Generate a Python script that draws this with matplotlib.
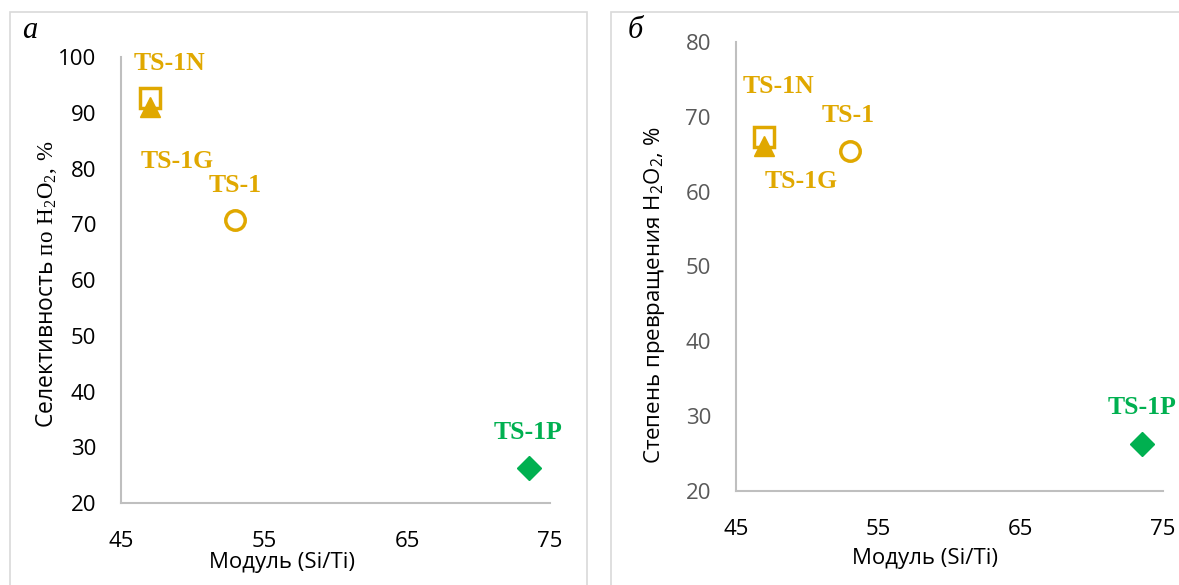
import matplotlib
matplotlib.use("Agg")
import matplotlib.pyplot as plt
from matplotlib.patches import Rectangle

plt.rcParams['font.family'] = ['Open Sans', 'DejaVu Sans']
plt.rcParams['mathtext.fontset'] = 'custom'
plt.rcParams['mathtext.rm'] = 'Liberation Serif'
plt.rcParams['mathtext.sf'] = 'Open Sans'

# samples
samples = ["TS-1", "TS-1N", "TS-1G", "TS-1P"]
si_ti = [53.0, 47.0, 47.0, 73.5]
selectivity = [70.8, 92.6, 91.0, 26.2]
conversion = [65.5, 67.3, 66.1, 26.3]

# label anchor positions (data coords) for each panel
lab_a_x = [53.0, 48.4, 48.9, 73.5]
lab_a_y = [77.0, 98.9, 81.2, 32.7]
lab_b_x = [52.9, 48.0, 49.6, 73.5]
lab_b_y = [70.2, 74.0, 61.3, 31.1]

gold = "#E0A800"
green = "#00B050"
styles = {
    "TS-1": dict(marker="o", mfc="none", mec=gold, ms=14, mew=2.5, color=gold),
    "TS-1N": dict(marker="s", mfc="none", mec=gold, ms=14, mew=2.5, color=gold),
    "TS-1G": dict(marker="^", mfc=gold, mec=gold, ms=14, mew=1, color=gold),
    "TS-1P": dict(marker="D", mfc=green, mec=green, ms=12, mew=1, color=green),
}

W, H = 1179, 585
fig = plt.figure(figsize=(W / 100, H / 100), dpi=100)

# panel frames
fig.patches.append(Rectangle((10 / W, -0.05), 577 / W, 1 - 12 / H + 0.05,
                             transform=fig.transFigure, fill=False,
                             ec="#D9D9D9", lw=1.2))
fig.patches.append(Rectangle((611 / W, -0.05), 0.6, 1 - 12 / H + 0.05,
                             transform=fig.transFigure, fill=False,
                             ec="#D9D9D9", lw=1.2))

ax1 = fig.add_axes([121 / W, 1 - 503 / H, 429 / W, 446 / H])
ax2 = fig.add_axes([736 / W, 1 - 491 / H, 427 / W, 449 / H])


def draw_panel(ax, yvals, lx, ly, ylim, yticks, ycolor):
    order = ["TS-1", "TS-1N", "TS-1G", "TS-1P"]
    for name in order:
        i = samples.index(name)
        st = styles[name]
        ax.plot(si_ti[i], yvals[i], linestyle="none", marker=st["marker"],
                mfc=st["mfc"], mec=st["mec"], ms=st["ms"], mew=st["mew"],
                zorder=3 + order.index(name), clip_on=False)
        ax.text(lx[i], ly[i], name, color=st["color"], ha="center", va="center",
                fontsize=18.5, fontweight="bold", family="Liberation Serif")
    ax.set_xlim(45, 75)
    ax.set_ylim(*ylim)
    ax.set_xticks([45, 55, 65, 75])
    ax.set_yticks(yticks)
    for s in ["top", "right"]:
        ax.spines[s].set_visible(False)
    for s in ["left", "bottom"]:
        ax.spines[s].set_color("#BFBFBF")
        ax.spines[s].set_linewidth(1.5)
    ax.tick_params(length=0, labelsize=16)
    ax.tick_params(axis="x", pad=20, colors="black")
    ax.tick_params(axis="y", pad=18, labelcolor=ycolor)
    ax.set_facecolor("none")


draw_panel(ax1, selectivity, lab_a_x, lab_a_y, (20, 100),
           range(20, 101, 10), "black")
draw_panel(ax2, conversion, lab_b_x, lab_b_y, (20, 80),
           range(20, 81, 10), "#595959")

ax1.set_xlabel("Модуль (Si/Ti)", fontsize=16)
ax1.xaxis.set_label_coords(0.376, -0.11)
ax1.set_ylabel(r"Селективность $\mathrm{по\ H_2O_2{,}\ \%}$", fontsize=16.5)
ax1.yaxis.set_label_coords(-0.145, 0.49)

ax2.set_xlabel("Модуль (Si/Ti)", fontsize=16)
ax2.xaxis.set_label_coords(0.443, -0.127)
ax2.set_ylabel(r"Степень превращения $\mathsf{H_2O_2}$, %", fontsize=16)
ax2.yaxis.set_label_coords(-0.162, 0.437)

fig.text(22 / W, 1 - 31 / H, "а", fontsize=22, style="italic",
         family="Liberation Serif", va="center")
fig.text(628 / W, 1 - 31 / H, "б", fontsize=22, style="italic",
         family="Liberation Serif", va="center")

fig.savefig("out.png", dpi=100)
